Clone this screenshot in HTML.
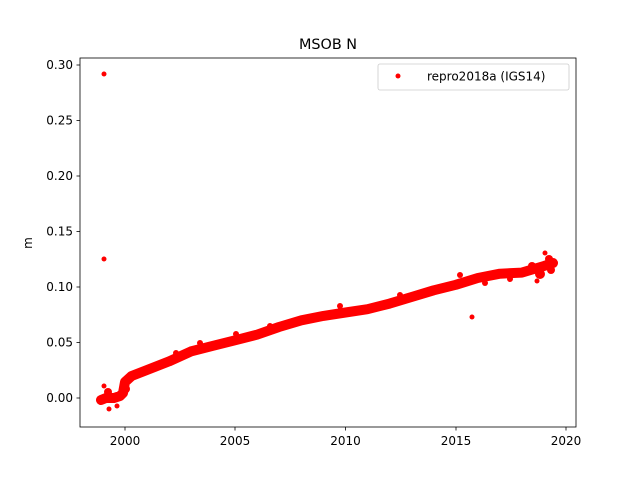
<!DOCTYPE html>
<html><head><meta charset="utf-8"><style>
html,body{margin:0;padding:0;background:#fff;}
svg{display:block;font-family:"DejaVu Sans","Liberation Sans",sans-serif;}
</style></head><body>
<svg width="640" height="480" viewBox="0 0 640 480" xmlns="http://www.w3.org/2000/svg">
<rect width="640" height="480" fill="#fff"/>
<text x="328" y="49" font-size="14.4" text-anchor="middle">MSOB N</text>
<polyline fill="none" stroke="#ff0000" stroke-width="10" stroke-linejoin="round" stroke-linecap="round"
points="101,400 106,398 114,398 120,396 123,393 125,382 131.6,376 147,370 169,361.4 191,351.4 213,345.8 235,340.3 257,334.7 279,327 301.4,320.3 323.5,315.9 345.5,312.5 367.5,309.2 389.6,303.6 411.6,297 433.7,290.3 455.8,284.8 477.8,278 499.9,273.7 521.9,272.6 544,266 553,263"/>
<g fill="#ff0000">
<circle cx="104" cy="74" r="2.5"/>
<circle cx="104" cy="259" r="2.5"/>
<circle cx="104" cy="386" r="2.5"/>
<circle cx="109" cy="409" r="2.5"/>
<circle cx="117" cy="406" r="2.5"/>
<circle cx="472" cy="317" r="2.5"/>
<circle cx="537" cy="281" r="2.5"/>
<circle cx="545" cy="253" r="2.5"/>
<circle cx="540" cy="274" r="5"/>
<circle cx="549" cy="259" r="4"/>
<circle cx="551" cy="270" r="4"/>
<circle cx="532" cy="266" r="4"/>
<circle cx="108" cy="392" r="4"/>
<circle cx="126" cy="389" r="4"/>
<circle cx="176" cy="353" r="3"/>
<circle cx="236" cy="334" r="3"/>
<circle cx="460" cy="275" r="3"/>
<circle cx="485" cy="283" r="3"/>
<circle cx="200" cy="343" r="3"/>
<circle cx="270" cy="326" r="3"/>
<circle cx="340" cy="306" r="3"/>
<circle cx="400" cy="295" r="3"/>
<circle cx="510" cy="279" r="3"/>
</g>
<rect x="80" y="58" width="496" height="369" fill="none" stroke="#000" stroke-width="0.8"/>
<g stroke="#000" stroke-width="0.8">
<line x1="125" y1="427" x2="125" y2="430.5"/>
<line x1="235" y1="427" x2="235" y2="430.5"/>
<line x1="345.5" y1="427" x2="345.5" y2="430.5"/>
<line x1="456" y1="427" x2="456" y2="430.5"/>
<line x1="566" y1="427" x2="566" y2="430.5"/>
<line x1="76.5" y1="398" x2="80" y2="398"/>
<line x1="76.5" y1="342.5" x2="80" y2="342.5"/>
<line x1="76.5" y1="287" x2="80" y2="287"/>
<line x1="76.5" y1="231.5" x2="80" y2="231.5"/>
<line x1="76.5" y1="176" x2="80" y2="176"/>
<line x1="76.5" y1="120.5" x2="80" y2="120.5"/>
<line x1="76.5" y1="65" x2="80" y2="65"/>
</g>
<g font-size="12" text-anchor="middle">
<text x="125" y="445">2000</text>
<text x="235" y="445">2005</text>
<text x="345.5" y="445">2010</text>
<text x="456" y="445">2015</text>
<text x="566" y="445">2020</text>
</g>
<g font-size="12" text-anchor="end">
<text x="73" y="402">0.00</text>
<text x="73" y="346.5">0.05</text>
<text x="73" y="291">0.10</text>
<text x="73" y="235.5">0.15</text>
<text x="73" y="180">0.20</text>
<text x="73" y="124.5">0.25</text>
<text x="73" y="69">0.30</text>
</g>
<text x="32" y="243" font-size="12" text-anchor="middle" transform="rotate(-90 32 243)">m</text>
<rect x="378" y="64" width="191" height="26" rx="2" fill="#fff" stroke="#ccc" stroke-width="0.8"/>
<circle cx="398" cy="76" r="2.5" fill="#ff0000"/>
<text x="427" y="80.5" font-size="12">repro2018a (IGS14)</text>
</svg>
</body></html>
